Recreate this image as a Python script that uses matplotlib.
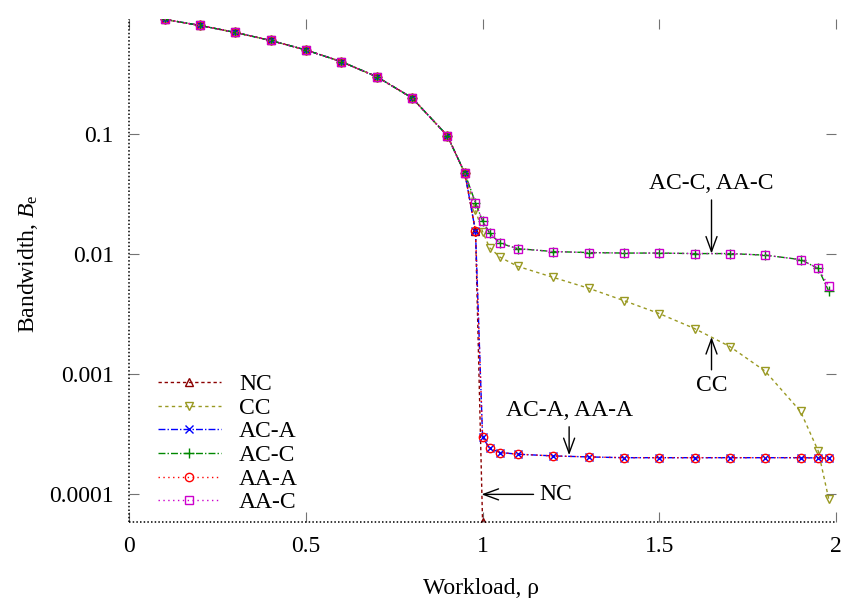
import matplotlib
matplotlib.use('Agg')
import matplotlib.pyplot as plt
from matplotlib.ticker import FixedLocator, NullLocator, FixedFormatter

plt.rcParams['font.family'] = ['Liberation Serif', 'DejaVu Serif']
plt.rcParams['mathtext.fontset'] = 'custom'
plt.rcParams['mathtext.rm'] = 'Liberation Serif'
plt.rcParams['mathtext.it'] = 'Liberation Serif:italic'
plt.rcParams['font.size'] = 17

# ---- data ----
rho_low = [0.1, 0.2, 0.3, 0.4, 0.5, 0.6, 0.7, 0.8, 0.9, 0.95]
b_low = [0.9, 0.8, 0.7, 0.6, 0.5, 0.4, 0.3, 0.2, 0.097, 0.047]

rho_nc = rho_low + [0.98, 1.0]
b_nc = b_low + [0.0155, 0.000059]

rho_high = [0.98, 1.0, 1.02, 1.05, 1.1, 1.2, 1.3, 1.4, 1.5, 1.6, 1.7, 1.8, 1.9, 1.95, 1.98]

b_cc = [0.0231, 0.0154, 0.0113, 0.0094, 0.0079, 0.0064, 0.0052, 0.0041, 0.0032,
        0.0024, 0.0017, 0.00106, 0.00049, 0.00023, 0.000091]
b_ac_a = [0.0155, 0.0003, 0.000241, 0.000223, 0.000216, 0.000209, 0.000205, 0.000202,
          0.000202, 0.000202, 0.000202, 0.000202, 0.000202, 0.000201, 0.0002]
b_aa_a = b_ac_a
b_ac_c = [0.0267, 0.0189, 0.0149, 0.0123, 0.0111, 0.0105, 0.0103, 0.0102, 0.0102,
          0.0101, 0.0101, 0.0098, 0.0090, 0.0076, 0.0049]
b_aa_c = [0.0267, 0.0189, 0.0149, 0.0123, 0.0111, 0.0105, 0.0103, 0.0102, 0.0102,
          0.0101, 0.0101, 0.0098, 0.0090, 0.0076, 0.0054]

yticks = [0.0001, 0.001, 0.01, 0.1]
ytick_labels = ['0.0001', '0.001', '0.01', '0.1']
xticks = [0, 0.5, 1, 1.5, 2]
xtick_labels = ['0', '0.5', '1', '1.5', '2']

# ---- figure ----
fig = plt.figure(figsize=(8.41, 5.98), dpi=100)
ax = fig.add_axes([0.1537, 0.1271, 0.8402, 0.8406])

ms = 6
ax.plot(rho_nc, b_nc, ls=(0, (2.4, 2)), lw=1, color='#8b0000', marker='^',
        ms=ms, mfc='none', mew=1, label='NC')
ax.plot(rho_low + rho_high, b_low + b_cc, ls=(0, (2.4, 2.4)), lw=1, color='#999922',
        marker='v', ms=ms, mfc='none', mew=1, label='CC')
ax.plot(rho_low + rho_high, b_low + b_ac_a, ls=(0, (5, 1.5, 1, 1.5)), lw=1,
        color='#0000ff', marker='x', ms=ms, mew=1, label='AC-A')
ax.plot(rho_low + rho_high, b_low + b_ac_c, ls=(0, (5, 1.5, 1, 1.5)), lw=1,
        color='#008800', marker='+', ms=ms + 1, mew=1, label='AC-C')
ax.plot(rho_low + rho_high, b_low + b_aa_a, ls=(0, (1, 2.5)), lw=1, color='#ff0000',
        marker='o', ms=ms, mfc='none', mew=1, label='AA-A')
ax.plot(rho_low + rho_high, b_low + b_aa_c, ls=(0, (1, 2.5)), lw=1, color='#cc00cc',
        marker='s', ms=ms, mfc='none', mew=1, label='AA-C')

ax.set_yscale('log')
ax.set_xlim(0, 2)
ax.set_ylim(0.0000589, 0.9)
ax.yaxis.set_major_locator(FixedLocator(yticks))
ax.yaxis.set_major_formatter(FixedFormatter(ytick_labels))
ax.yaxis.set_minor_locator(NullLocator())
ax.xaxis.set_major_locator(FixedLocator(xticks))
ax.xaxis.set_major_formatter(FixedFormatter(xtick_labels))

# gnuplot-like frame: dotted left/bottom, no top/right line
for side in ['top', 'right']:
    ax.spines[side].set_visible(False)
for side in ['left', 'bottom']:
    ax.spines[side].set_linestyle((0, (1, 1.4)))
    ax.spines[side].set_linewidth(1.1)
    ax.spines[side].set_capstyle('butt')

ax.tick_params(which='major', direction='in', length=7, width=0.8, color='0.45',
               top=True, right=True, labelsize=17)
ax.tick_params(axis='y', pad=11)
ax.tick_params(axis='x', pad=10)

ax.set_xlabel('Workload, ρ', fontsize=17)
ax.set_ylabel('Bandwidth, $B_\\mathrm{e}$', fontsize=17)
ax.xaxis.set_label_coords(0.498, -0.111)
ax.yaxis.set_label_coords(-0.127, 0.513)

# annotations
arrow = dict(arrowstyle='->,head_length=0.6,head_width=0.22', lw=1, color='black',
             shrinkA=2, shrinkB=0, mutation_scale=18)
ax.annotate('AC-C, AA-C', xy=(1.648, 0.0101), xytext=(1.648, 0.0384),
            ha='center', va='center', arrowprops=arrow)
ax.annotate('CC', xy=(1.648, 0.00204), xytext=(1.648, 0.00080),
            ha='center', va='center', arrowprops=arrow)
ax.annotate('AC-A, AA-A', xy=(1.245, 0.000212), xytext=(1.245, 0.000497),
            ha='center', va='center', arrowprops=arrow)
ax.annotate('NC', xy=(0.997, 0.0001), xytext=(1.16, 0.0001),
            ha='left', va='center', arrowprops=arrow)

ax.legend(loc='lower left', bbox_to_anchor=(0.04, 0.017), frameon=False,
          borderaxespad=0, borderpad=0, handlelength=2.7, handletextpad=0.75,
          labelspacing=0.09, fontsize=17)

fig.savefig('out.png', dpi=100)
